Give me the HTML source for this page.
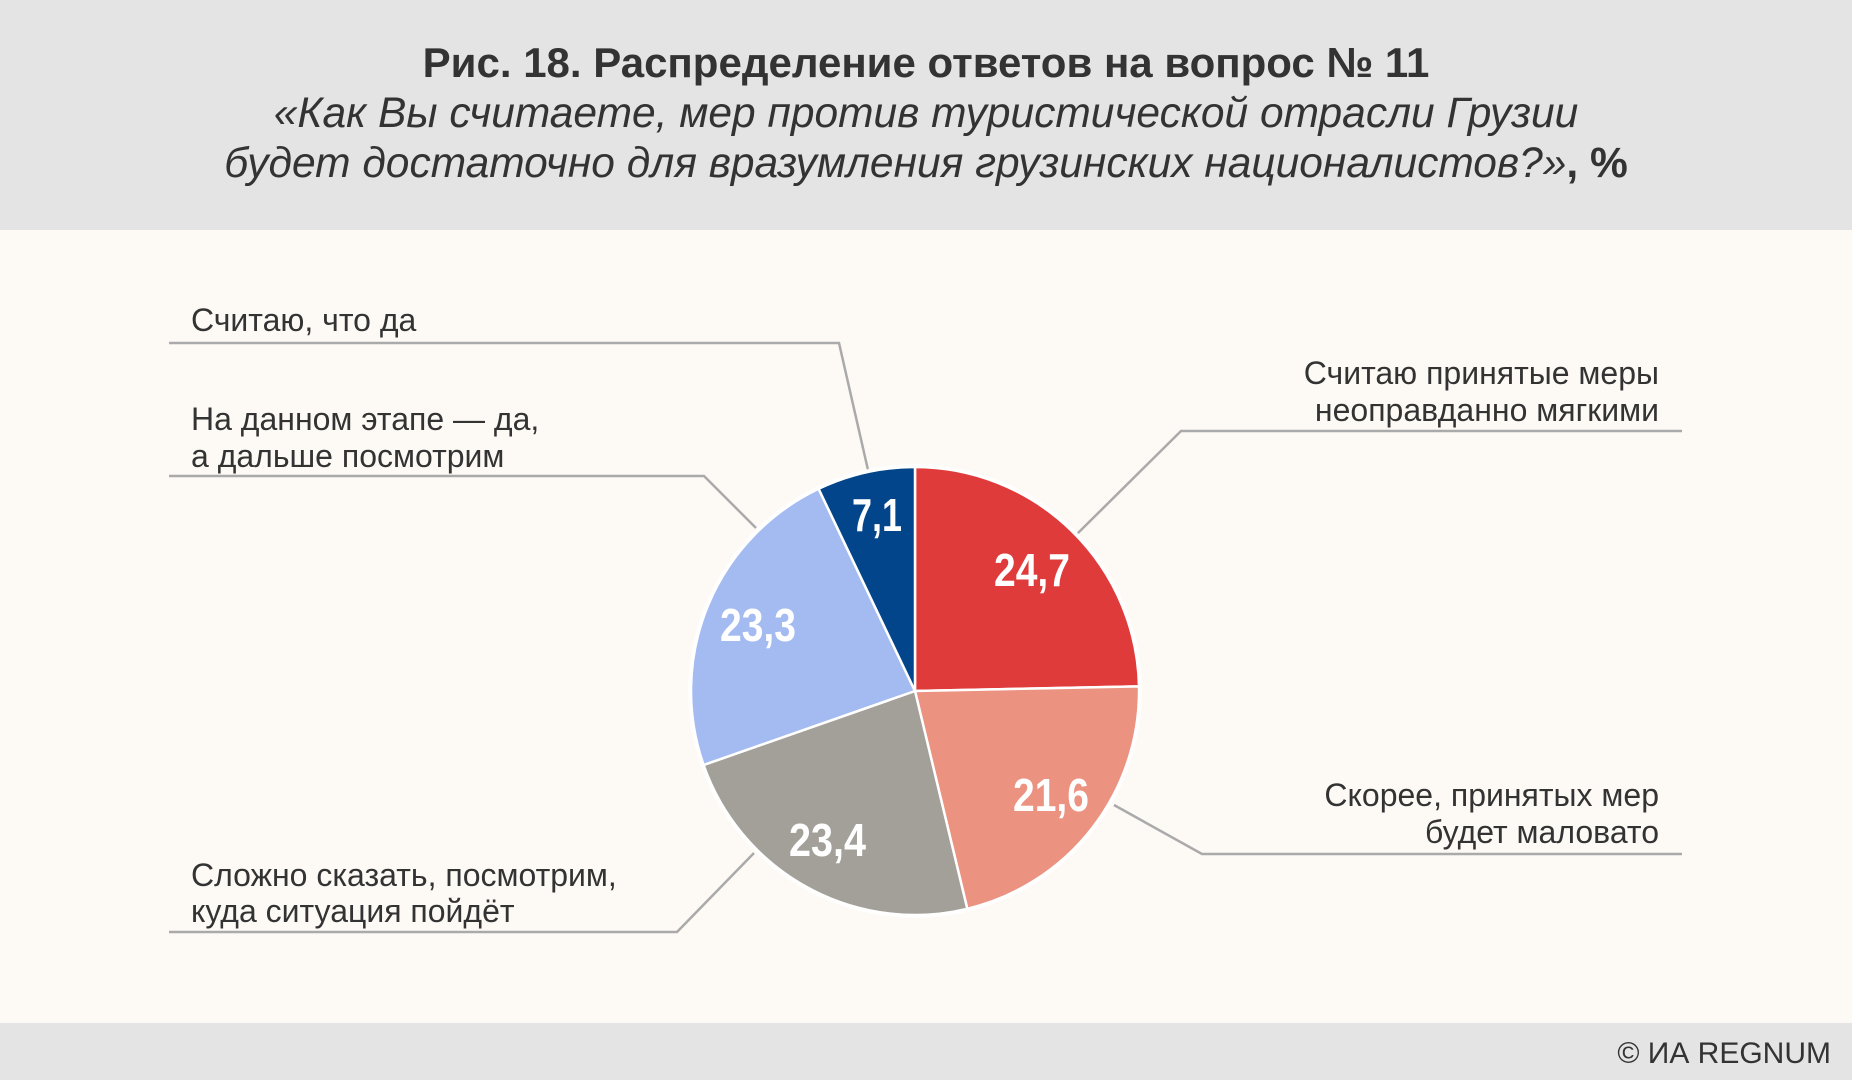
<!DOCTYPE html>
<html><head><meta charset="utf-8"><style>
body{margin:0;width:1852px;height:1080px;overflow:hidden;background:#fdf9f5;font-family:"Liberation Sans","DejaVu Sans",sans-serif;}
.hdr{position:absolute;left:0;top:0;width:1852px;height:230px;background:#e4e4e4;}
.ftr{position:absolute;left:0;top:1023px;width:1852px;height:57px;background:#e4e4e4;}
svg{position:absolute;left:0;top:0;}
</style></head><body>
<div class="hdr"></div><div class="ftr"></div>
<svg width="1852" height="1080" viewBox="0 0 1852 1080">
<g font-family="Liberation Sans, DejaVu Sans, sans-serif" fill="#333" text-anchor="middle">
<text x="926" y="77" font-size="42" font-weight="bold">Рис. 18. Распределение ответов на вопрос № 11</text>
<text x="926" y="127" font-size="42.5" font-style="italic">«Как Вы считаете, мер против туристической отрасли Грузии</text>
<text x="926" y="177" font-size="42.5"><tspan font-style="italic">будет достаточно для вразумления грузинских националистов?»</tspan><tspan font-weight="bold">, %</tspan></text>
</g>
<g stroke="#aaa" stroke-width="2.5" fill="none">
<polyline points="169,343 839,343 868,470"/>
<polyline points="169,476 704,476 756,528"/>
<polyline points="169,932 677,932 754,853"/>
<polyline points="1682,431 1181,431 1077,534"/>
<polyline points="1682,854 1202,854 1114,805"/>
</g>
<circle cx="915" cy="691" r="227" fill="#fff" opacity="0.8"/>
<g stroke="#fff" stroke-width="2.5" stroke-linejoin="round">
<path d="M915,691 L915,467 A224,224 0 0 1 1139,686.4 Z" fill="#e03b3b"/>
<path d="M915,691 L1139,686.4 A224,224 0 0 1 967.3,908.8 Z" fill="#eb9281"/>
<path d="M915,691 L967.3,908.8 A224,224 0 0 1 703.6,765 Z" fill="#a3a09a"/>
<path d="M915,691 L703.6,765 A224,224 0 0 1 818.6,488.8 Z" fill="#a4bbf2"/>
<path d="M915,691 L818.6,488.8 A224,224 0 0 1 915,467 Z" fill="#03458b"/>
</g>
<g font-family="Liberation Sans Narrow, Liberation Sans, sans-serif" font-weight="bold" font-size="46" fill="#fff">
<text x="994" y="586" textLength="76" lengthAdjust="spacingAndGlyphs">24,7</text>
<text x="1013" y="811" textLength="76" lengthAdjust="spacingAndGlyphs">21,6</text>
<text x="789" y="856" textLength="77" lengthAdjust="spacingAndGlyphs">23,4</text>
<text x="720" y="641" textLength="76" lengthAdjust="spacingAndGlyphs">23,3</text>
<text x="852" y="531" textLength="50" lengthAdjust="spacingAndGlyphs">7,1</text>
</g>
<g font-family="Liberation Sans, DejaVu Sans, sans-serif" font-size="32" fill="#333">
<text x="191" y="331">Считаю, что да</text>
<text x="191" y="430">На данном этапе — да,</text>
<text x="191" y="467">а дальше посмотрим</text>
<text x="191" y="886">Сложно сказать, посмотрим,</text>
<text x="191" y="922">куда ситуация пойдёт</text>
<text x="1659" y="384" text-anchor="end">Считаю принятые меры</text>
<text x="1659" y="421" text-anchor="end">неоправданно мягкими</text>
<text x="1659" y="806" text-anchor="end">Скорее, принятых мер</text>
<text x="1659" y="843" text-anchor="end">будет маловато</text>
<text x="1831" y="1063" text-anchor="end" font-size="30">© ИА REGNUM</text>
</g>
</svg>
</body></html>
